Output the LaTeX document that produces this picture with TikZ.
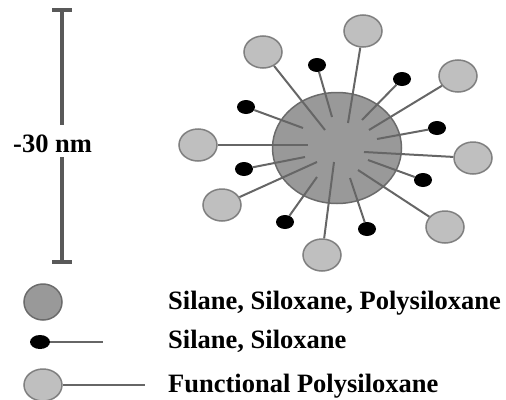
\documentclass[tikz,border=0pt]{standalone}
\usepackage{fontspec}
\setmainfont{Liberation Serif}
\usetikzlibrary{shapes,positioning}

\begin{document}
\begin{tikzpicture}[
  x=1pt, y=-1pt,
  core/.style={ellipse, draw=black!58, fill=black!40, line width=1.5pt, minimum width=129pt, minimum height=111pt, inner sep=0pt},
  func/.style={ellipse, draw=black!50, fill=black!25, line width=1.5pt, minimum width=38pt, minimum height=32pt, inner sep=0pt},
  sil/.style={ellipse, fill=black, minimum width=18pt, minimum height=14pt, inner sep=0pt},
  stem/.style={draw=black!60, line width=2pt},
  bar/.style={draw=black!65, line width=3.5pt},
  lbl/.style={font=\bfseries\fontsize{26.5}{30}\selectfont, anchor=base west, inner sep=0pt}
]
  \useasboundingbox (0,0) rectangle (506,399);

  % scale bar
  \coordinate (bartop) at (62,10);
  \coordinate (barbot) at (62,262);
  \node[lbl] (size) at (13,152) {-30 nm};
  \draw[bar] (bartop) -- (62,125);
  \draw[bar] (62,157) -- (barbot);
  \draw[bar] ([xshift=-10pt]bartop) -- ([xshift=10pt]bartop);
  \draw[bar] ([xshift=-10pt]barbot) -- ([xshift=10pt]barbot);

  % particle
  \node[core] (core) at (337,148) {};

  \node[func] (f1) at (263,52) {};
  \node[func] (f2) at (363,31) {};
  \node[func] (f3) at (458,76) {};
  \node[func] (f4) at (473,158) {};
  \node[func] (f5) at (445,227) {};
  \node[func] (f6) at (322,255) {};
  \node[func] (f7) at (222,205) {};
  \node[func] (f8) at (198,145) {};

  \node[sil] (s1) at (317,65) {};
  \node[sil] (s2) at (402,79) {};
  \node[sil] (s3) at (246,107) {};
  \node[sil] (s4) at (437,128) {};
  \node[sil] (s5) at (244,169) {};
  \node[sil] (s6) at (423,180) {};
  \node[sil] (s7) at (285,222) {};
  \node[sil] (s8) at (367,229) {};

  \coordinate (e1) at (325,130);
  \coordinate (e2) at (348,123);
  \coordinate (e3) at (369,130);
  \coordinate (e4) at (364,152);
  \coordinate (e5) at (358,170);
  \coordinate (e6) at (334,162);
  \coordinate (e7) at (317,162);
  \coordinate (e8) at (308,145);
  \coordinate (t1) at (332,117);
  \coordinate (t2) at (362,120);
  \coordinate (t3) at (303,128);
  \coordinate (t4) at (377,139);
  \coordinate (t5) at (305,157);
  \coordinate (t6) at (368,160);
  \coordinate (t7) at (317,177);
  \coordinate (t8) at (350,178);

  \draw[stem] (f1) -- (e1);
  \draw[stem] (f2) -- (e2);
  \draw[stem] (f3) -- (e3);
  \draw[stem] (f4) -- (e4);
  \draw[stem] (f5) -- (e5);
  \draw[stem] (f6) -- (e6);
  \draw[stem] (f7) -- (e7);
  \draw[stem] (f8) -- (e8);
  \draw[stem] (s1) -- (t1);
  \draw[stem] (s2) -- (t2);
  \draw[stem] (s3) -- (t3);
  \draw[stem] (s4) -- (t4);
  \draw[stem] (s5) -- (t5);
  \draw[stem] (s6) -- (t6);
  \draw[stem] (s7) -- (t7);
  \draw[stem] (s8) -- (t8);

  % legend
  \node[core, minimum width=38pt, minimum height=36pt] (keycore) at (43,302) {};
  \node[sil, minimum width=20pt] (keysil) at (40,342) {};
  \node[func] (keyfunc) at (43,385) {};
  \coordinate (keysilend) at (103,342);
  \coordinate (keyfuncend) at (145,385);
  \draw[stem] (keysil) -- (keysilend);
  \draw[stem] (keyfunc) -- (keyfuncend);
  \node[lbl] (txtcore) at (168,309) {Silane, Siloxane, Polysiloxane};
  \node[lbl] (txtsil) at (168,348) {Silane, Siloxane};
  \node[lbl] (txtfunc) at (168,392) {Functional Polysiloxane};
\end{tikzpicture}
\end{document}
